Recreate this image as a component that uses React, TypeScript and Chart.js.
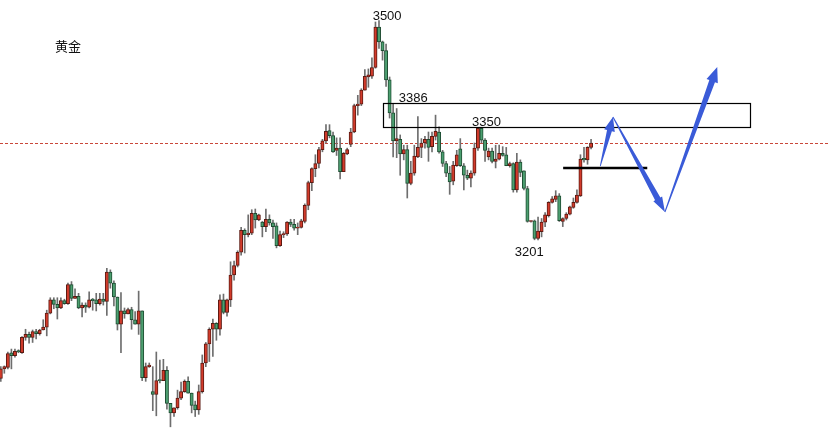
import React, { useEffect, useRef } from 'react';
import { Chart, registerables } from 'chart.js';

Chart.register(...registerables);

// ---- Candle data (4H gold) ----
const opens = [
  3012, 3025, 3027, 3047, 3043, 3050, 3047, 3068, 3072, 3068, 3076, 3073, 3078, 3082, 3101, 3119, 3113, 3108, 3118, 3114,
  3140, 3121, 3124, 3108, 3112, 3109, 3120, 3119, 3114, 3120, 3117, 3157, 3142, 3123, 3086, 3104, 3100, 3106, 3092, 3086,
  3104, 3013, 3028, 2994, 2990, 3010, 3009, 3023, 2978, 2965, 2972, 2985, 2994, 3008, 2992, 2976, 2969, 2994, 3033, 3059,
  3079, 3087, 3079, 3119, 3102, 3119, 3153, 3166, 3184, 3214, 3208, 3210, 3237, 3228, 3225, 3219, 3229, 3224, 3220, 3193,
  3208, 3209, 3225, 3222, 3217, 3218, 3226, 3248, 3279, 3298, 3305, 3324, 3336, 3350, 3343, 3323, 3326, 3294, 3318, 3331,
  3348, 3384, 3386, 3405, 3423, 3424, 3436, 3491, 3471, 3459, 3419, 3374, 3336, 3338, 3318, 3324, 3278, 3292, 3314, 3327,
  3333, 3338, 3328, 3342, 3348, 3321, 3305, 3292, 3281, 3302, 3325, 3302, 3289, 3285, 3292, 3326, 3353, 3337, 3314, 3322,
  3308, 3311, 3319, 3317, 3302, 3305, 3269, 3307, 3295, 3271, 3226, 3227, 3203, 3212, 3225, 3234, 3252, 3256, 3261, 3226,
  3230, 3236, 3245, 3252, 3261, 3312, 3310, 3327,
];
const highs = [
  3028, 3029, 3048, 3052, 3052, 3051, 3069, 3079, 3075, 3078, 3079, 3079, 3092, 3105, 3122, 3122, 3122, 3122, 3120, 3142,
  3144, 3134, 3128, 3115, 3115, 3130, 3121, 3128, 3128, 3128, 3162, 3160, 3145, 3123, 3129, 3108, 3108, 3109, 3103, 3131,
  3104, 3033, 3033, 3028, 3048, 3037, 3038, 3028, 2978, 2972, 2996, 3007, 3010, 3014, 2992, 2981, 3003, 3044, 3061, 3081,
  3093, 3088, 3126, 3127, 3120, 3171, 3172, 3186, 3218, 3216, 3235, 3242, 3243, 3236, 3226, 3243, 3235, 3228, 3224, 3213,
  3212, 3226, 3229, 3229, 3224, 3229, 3250, 3281, 3299, 3317, 3327, 3338, 3358, 3358, 3348, 3340, 3340, 3320, 3326, 3353,
  3386, 3398, 3407, 3433, 3434, 3449, 3498, 3500, 3472, 3468, 3423, 3386, 3380, 3344, 3330, 3330, 3308, 3330, 3369, 3339,
  3342, 3348, 3348, 3371, 3355, 3323, 3308, 3301, 3308, 3323, 3339, 3305, 3296, 3295, 3333, 3354, 3354, 3339, 3326, 3326,
  3330, 3330, 3328, 3327, 3307, 3306, 3319, 3310, 3295, 3274, 3227, 3228, 3232, 3230, 3238, 3253, 3260, 3268, 3264, 3231,
  3238, 3247, 3258, 3269, 3317, 3327, 3328, 3338,
];
const lows = [
  3008, 3019, 3025, 3025, 3041, 3047, 3046, 3064, 3060, 3061, 3066, 3071, 3078, 3070, 3100, 3107, 3093, 3107, 3113, 3113,
  3118, 3121, 3107, 3096, 3102, 3108, 3105, 3104, 3112, 3112, 3098, 3135, 3111, 3078, 3047, 3094, 3100, 3079, 3086, 3072,
  3009, 3008, 3027, 2968, 2961, 3006, 3009, 2970, 2946, 2960, 2970, 2983, 2993, 2992, 2965, 2960, 2963, 2992, 3028, 3035,
  3042, 3064, 3071, 3100, 3097, 3110, 3146, 3164, 3180, 3183, 3205, 3208, 3217, 3227, 3205, 3212, 3221, 3203, 3190, 3192,
  3204, 3207, 3219, 3214, 3208, 3217, 3224, 3242, 3268, 3287, 3299, 3321, 3333, 3340, 3320, 3316, 3284, 3294, 3317, 3328,
  3347, 3371, 3384, 3405, 3409, 3421, 3435, 3462, 3446, 3410, 3367, 3314, 3313, 3289, 3310, 3258, 3276, 3289, 3313, 3313,
  3326, 3308, 3321, 3337, 3319, 3301, 3287, 3263, 3276, 3301, 3301, 3269, 3283, 3273, 3289, 3323, 3333, 3308, 3310, 3306,
  3299, 3310, 3315, 3302, 3300, 3266, 3266, 3287, 3269, 3225, 3225, 3201, 3201, 3205, 3219, 3232, 3251, 3253, 3226, 3219,
  3228, 3235, 3244, 3251, 3260, 3307, 3304, 3325,
];
const closes = [
  3025, 3028, 3046, 3043, 3049, 3048, 3068, 3072, 3068, 3076, 3073, 3078, 3082, 3101, 3119, 3113, 3108, 3118, 3114, 3140,
  3121, 3124, 3108, 3112, 3109, 3119, 3118, 3114, 3120, 3117, 3157, 3142, 3123, 3086, 3104, 3100, 3106, 3092, 3086, 3104,
  3013, 3028, 3030, 2990, 3009, 3009, 3023, 2978, 2965, 2972, 2985, 2994, 3008, 2992, 2975, 2969, 2994, 3033, 3059, 3079,
  3087, 3079, 3119, 3102, 3119, 3153, 3166, 3184, 3214, 3208, 3210, 3237, 3228, 3235, 3219, 3229, 3224, 3219, 3193, 3208,
  3209, 3225, 3222, 3217, 3218, 3227, 3248, 3279, 3298, 3305, 3324, 3336, 3349, 3343, 3321, 3326, 3294, 3319, 3324, 3348,
  3384, 3386, 3405, 3424, 3426, 3436, 3491, 3471, 3459, 3419, 3374, 3336, 3339, 3318, 3324, 3278, 3292, 3315, 3327, 3333,
  3338, 3327, 3342, 3349, 3321, 3305, 3292, 3280, 3303, 3317, 3302, 3289, 3285, 3292, 3326, 3353, 3337, 3323, 3322, 3308,
  3311, 3319, 3316, 3302, 3305, 3269, 3307, 3293, 3271, 3226, 3227, 3203, 3213, 3225, 3235, 3252, 3257, 3261, 3227, 3230,
  3236, 3246, 3252, 3262, 3311, 3310, 3327, 3333,
];

// ---- Annotations (in data units: candle index / price) ----
const lastPrice = 3333;
const zoneFrom = 108.1;
const zoneTo = 212.0;
const zoneTop = 3387;
const zoneBottom = 3355;
const levelFrom = 159.1;
const levelTo = 182.9;
const levelPrice = 3299;
// arrows: [fromIndex, fromPrice, toIndex, toPrice]
const arrowPaths = [
  [169.6, 3301.6, 173.2, 3368.5],
  [173.2, 3368.5, 187.9, 3238.9],
  [187.9, 3238.9, 202.7, 3436.6],
];
const priceLabels = ['3500', '3386', '3350', '3201'];
const priceLabelIndex = [109.3, 116.7, 137.4, 149.5];
const priceLabelPrice = [3501.4, 3389, 3356.2, 3179];
const title = '黄金';

// ---- styles ----
const RED = '#d23b2b';
const RED_BORDER = '#5c1a12';
const GREEN = '#4c9f70';
const GREEN_BORDER = '#1e4d32';
const WICK = '#6e6e6e';
const BLUE = '#3a5bd8';
const arrowStyle = [
  { w0: 0.8, w1: 5, headLen: 14, headW: 11 },
  { w0: 1, w1: 6, headLen: 15, headW: 10 },
  { w0: 1, w1: 6, headLen: 15, headW: 12 },
];

function drawArrow(ctx: CanvasRenderingContext2D, x0: number, y0: number, x1: number, y1: number, s: any) {
  const dx = x1 - x0;
  const dy = y1 - y0;
  const len = Math.hypot(dx, dy);
  const ux = dx / len;
  const uy = dy / len;
  const nx = -uy;
  const ny = ux;
  const bx = x1 - ux * s.headLen;
  const by = y1 - uy * s.headLen;
  ctx.beginPath();
  ctx.moveTo(x0 + (nx * s.w0) / 2, y0 + (ny * s.w0) / 2);
  ctx.lineTo(bx + (nx * s.w1) / 2, by + (ny * s.w1) / 2);
  ctx.lineTo(bx + (nx * s.headW) / 2, by + (ny * s.headW) / 2);
  ctx.lineTo(x1, y1);
  ctx.lineTo(bx - (nx * s.headW) / 2, by - (ny * s.headW) / 2);
  ctx.lineTo(bx - (nx * s.w1) / 2, by - (ny * s.w1) / 2);
  ctx.lineTo(x0 - (nx * s.w0) / 2, y0 - (ny * s.w0) / 2);
  ctx.closePath();
  ctx.fillStyle = BLUE;
  ctx.fill();
}

export default function App() {
  const ref = useRef<HTMLCanvasElement>(null);

  useEffect(() => {
    if (!ref.current) return;
    const idx = opens.map((_, i) => i);
    const isUp = (i: number) => closes[i] >= opens[i];
    const bodies = idx.map((i) => ({ x: i, y: [opens[i], closes[i]] }));
    const wicks = idx.map((i) => ({ x: i, y: [lows[i], highs[i]] }));

    const overlay = {
      id: 'overlay',
      beforeDatasetsDraw(chart: any) {
        const { ctx, chartArea, scales } = chart;
        const y = Math.round(scales.y.getPixelForValue(lastPrice)) + 0.5;
        ctx.save();
        ctx.strokeStyle = '#c9473a';
        ctx.lineWidth = 1;
        ctx.setLineDash([3, 2]);
        ctx.beginPath();
        ctx.moveTo(chartArea.left, y);
        ctx.lineTo(chartArea.right, y);
        ctx.stroke();
        ctx.restore();
      },
      afterDatasetsDraw(chart: any) {
        const { ctx, scales } = chart;
        const xs = scales.x;
        const ys = scales.y;
        ctx.save();
        // zone box
        const bx0 = Math.round(xs.getPixelForValue(zoneFrom)) + 0.5;
        const bx1 = Math.round(xs.getPixelForValue(zoneTo)) + 0.5;
        const by0 = Math.round(ys.getPixelForValue(zoneTop)) + 0.5;
        const by1 = Math.round(ys.getPixelForValue(zoneBottom)) + 0.5;
        ctx.strokeStyle = '#000';
        ctx.lineWidth = 1.2;
        ctx.strokeRect(bx0, by0, bx1 - bx0, by1 - by0);
        // level line
        const ly = ys.getPixelForValue(levelPrice);
        ctx.lineWidth = 2.5;
        ctx.beginPath();
        ctx.moveTo(xs.getPixelForValue(levelFrom), ly);
        ctx.lineTo(xs.getPixelForValue(levelTo), ly);
        ctx.stroke();
        // arrows
        arrowPaths.forEach((a, k) => {
          drawArrow(
            ctx,
            xs.getPixelForValue(a[0]),
            ys.getPixelForValue(a[1]),
            xs.getPixelForValue(a[2]),
            ys.getPixelForValue(a[3]),
            arrowStyle[k]
          );
        });
        // price labels
        ctx.fillStyle = '#111';
        ctx.font = '13px "Liberation Sans", Arial, sans-serif';
        ctx.textAlign = 'center';
        ctx.textBaseline = 'alphabetic';
        priceLabels.forEach((t, k) => {
          ctx.fillText(t, xs.getPixelForValue(priceLabelIndex[k]), ys.getPixelForValue(priceLabelPrice[k]));
        });
        // title
        ctx.font = '13px "Noto Sans CJK SC", sans-serif';
        ctx.textAlign = 'left';
        ctx.fillText(title, 55, 51);
        ctx.restore();
      },
    };

    const chart = new Chart(ref.current, {
      type: 'bar',
      data: {
        datasets: [
          {
            data: bodies as any,
            order: 0,
            grouped: false,
            barThickness: 3.3,
            minBarLength: 1,
            borderWidth: 1,
            borderSkipped: false,
            backgroundColor: (c: any) => (isUp(c.dataIndex) ? RED : GREEN),
            borderColor: (c: any) => (isUp(c.dataIndex) ? RED_BORDER : GREEN_BORDER),
          } as any,
          {
            data: wicks as any,
            order: 1,
            grouped: false,
            barThickness: 1,
            borderWidth: 0,
            backgroundColor: WICK,
          } as any,
        ],
      },
      options: {
        animation: false,
        responsive: false,
        maintainAspectRatio: false,
        events: [],
        layout: { padding: 0 },
        plugins: {
          legend: { display: false },
          tooltip: { enabled: false },
          title: { display: false },
        },
        scales: {
          x: { type: 'linear', min: -0.226, max: 234.6, display: false, offset: false },
          y: { type: 'linear', min: 2928, max: 3528, display: false },
        },
      } as any,
      plugins: [overlay],
    });
    return () => chart.destroy();
  }, []);

  return (
    <div style={{ position: 'absolute', left: 0, top: 0, width: 830, height: 440, background: '#fff' }}>
      <canvas ref={ref} width={830} height={440} style={{ display: 'block', width: 830, height: 440 }} />
    </div>
  );
}
